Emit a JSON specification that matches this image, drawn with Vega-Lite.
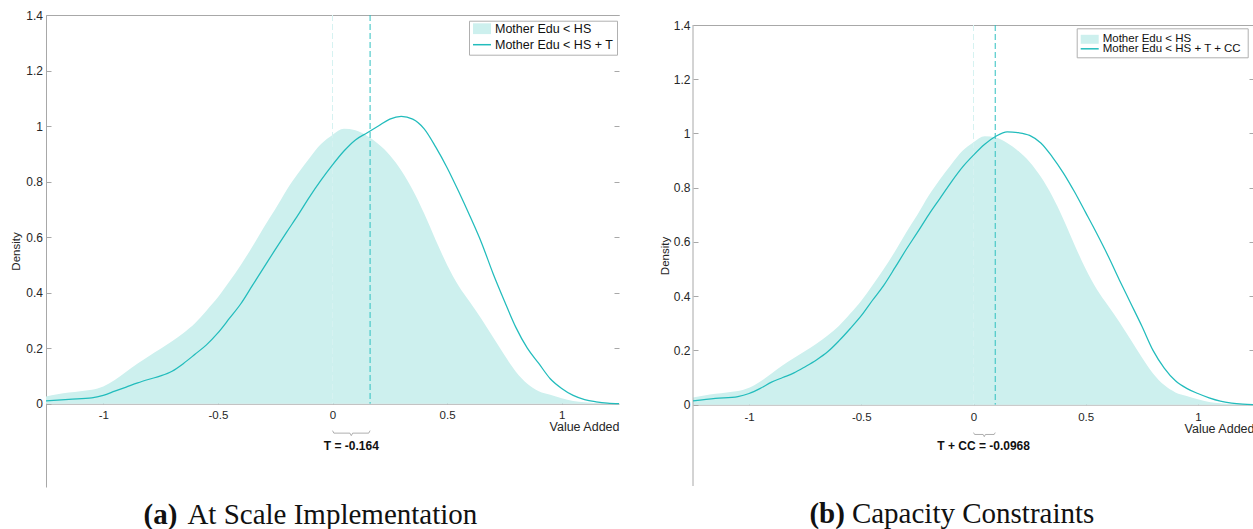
{
  "$schema": "https://vega.github.io/schema/vega-lite/v6.json",
  "padding": {"left": 10, "top": 9, "right": 0, "bottom": 0},
  "autosize": {"type": "pad"},
  "spacing": 74,
  "bounds": "flush",
  "config": {
    "view": {"stroke": null},
    "font": "Liberation Sans",
    "axis": {"labelFont": "Liberation Sans", "labelFontSize": 11.5, "labelColor": "#262626", "titleFont": "Liberation Sans", "titleColor": "#262626", "titleFontWeight": "normal", "domainColor": "#a8a8a8", "tickColor": "#a8a8a8", "grid": false, "labelFlush": false},
    "legend": {"labelFont": "Liberation Sans", "labelColor": "#111111", "titleFont": "Liberation Sans", "titleFontWeight": "normal", "padding": 3, "labelOffset": 3, "symbolSize": 324, "cornerRadius": 0}
  },
  "datasets": {
    "base": [
      {"va": -1.25, "density": 0.026}, {"va": -1.2, "density": 0.034}, {"va": -1.15, "density": 0.04}, {"va": -1.1, "density": 0.045}, {"va": -1.05, "density": 0.05}, {"va": -1.0, "density": 0.062}, {"va": -0.95, "density": 0.085}, {"va": -0.9, "density": 0.115}, {"va": -0.85, "density": 0.145}, {"va": -0.8, "density": 0.172}, {"va": -0.75, "density": 0.198}, {"va": -0.7, "density": 0.225}, {"va": -0.65, "density": 0.255}, {"va": -0.6, "density": 0.29}, {"va": -0.55, "density": 0.335}, {"va": -0.5, "density": 0.383}, {"va": -0.45, "density": 0.44}, {"va": -0.4, "density": 0.5}, {"va": -0.35, "density": 0.565}, {"va": -0.3, "density": 0.635}, {"va": -0.25, "density": 0.7}, {"va": -0.2, "density": 0.77}, {"va": -0.15, "density": 0.83}, {"va": -0.1, "density": 0.885}, {"va": -0.05, "density": 0.935}, {"va": 0.0, "density": 0.968}, {"va": 0.05, "density": 0.99}, {"va": 0.1, "density": 0.985}, {"va": 0.15, "density": 0.965}, {"va": 0.2, "density": 0.935}, {"va": 0.25, "density": 0.895}, {"va": 0.3, "density": 0.84}, {"va": 0.35, "density": 0.77}, {"va": 0.4, "density": 0.685}, {"va": 0.45, "density": 0.59}, {"va": 0.5, "density": 0.5}, {"va": 0.55, "density": 0.425}, {"va": 0.6, "density": 0.365}, {"va": 0.65, "density": 0.305}, {"va": 0.7, "density": 0.24}, {"va": 0.75, "density": 0.175}, {"va": 0.8, "density": 0.115}, {"va": 0.85, "density": 0.072}, {"va": 0.9, "density": 0.045}, {"va": 0.95, "density": 0.032}, {"va": 1.0, "density": 0.02}, {"va": 1.05, "density": 0.01}, {"va": 1.1, "density": 0.005}, {"va": 1.15, "density": 0.002}, {"va": 1.2, "density": 0.001}, {"va": 1.25, "density": 0.0}
    ],
    "treat": [
      {"va": -1.25, "density": 0.01}, {"va": -1.15, "density": 0.016}, {"va": -1.05, "density": 0.021}, {"va": -1.0, "density": 0.03}, {"va": -0.95, "density": 0.045}, {"va": -0.9, "density": 0.06}, {"va": -0.85, "density": 0.075}, {"va": -0.8, "density": 0.088}, {"va": -0.75, "density": 0.1}, {"va": -0.7, "density": 0.117}, {"va": -0.65, "density": 0.145}, {"va": -0.6, "density": 0.178}, {"va": -0.55, "density": 0.212}, {"va": -0.5, "density": 0.255}, {"va": -0.45, "density": 0.307}, {"va": -0.4, "density": 0.36}, {"va": -0.35, "density": 0.425}, {"va": -0.3, "density": 0.49}, {"va": -0.25, "density": 0.555}, {"va": -0.2, "density": 0.618}, {"va": -0.15, "density": 0.68}, {"va": -0.1, "density": 0.745}, {"va": -0.05, "density": 0.805}, {"va": 0.0, "density": 0.86}, {"va": 0.05, "density": 0.91}, {"va": 0.1, "density": 0.95}, {"va": 0.15, "density": 0.975}, {"va": 0.2, "density": 1.0}, {"va": 0.25, "density": 1.025}, {"va": 0.3, "density": 1.035}, {"va": 0.35, "density": 1.025}, {"va": 0.4, "density": 0.99}, {"va": 0.45, "density": 0.925}, {"va": 0.5, "density": 0.85}, {"va": 0.55, "density": 0.765}, {"va": 0.6, "density": 0.675}, {"va": 0.65, "density": 0.58}, {"va": 0.7, "density": 0.47}, {"va": 0.75, "density": 0.37}, {"va": 0.8, "density": 0.275}, {"va": 0.85, "density": 0.2}, {"va": 0.9, "density": 0.145}, {"va": 0.95, "density": 0.09}, {"va": 1.0, "density": 0.055}, {"va": 1.05, "density": 0.03}, {"va": 1.1, "density": 0.015}, {"va": 1.15, "density": 0.007}, {"va": 1.2, "density": 0.002}, {"va": 1.25, "density": 0.0}
    ],
    "cc": [
      {"va": -1.25, "density": 0.014}, {"va": -1.15, "density": 0.023}, {"va": -1.05, "density": 0.03}, {"va": -1.0, "density": 0.041}, {"va": -0.95, "density": 0.06}, {"va": -0.9, "density": 0.083}, {"va": -0.85, "density": 0.1}, {"va": -0.8, "density": 0.117}, {"va": -0.75, "density": 0.14}, {"va": -0.7, "density": 0.165}, {"va": -0.65, "density": 0.195}, {"va": -0.6, "density": 0.235}, {"va": -0.55, "density": 0.28}, {"va": -0.5, "density": 0.328}, {"va": -0.45, "density": 0.385}, {"va": -0.4, "density": 0.44}, {"va": -0.35, "density": 0.505}, {"va": -0.3, "density": 0.572}, {"va": -0.25, "density": 0.635}, {"va": -0.2, "density": 0.7}, {"va": -0.15, "density": 0.76}, {"va": -0.1, "density": 0.82}, {"va": -0.05, "density": 0.875}, {"va": 0.0, "density": 0.92}, {"va": 0.05, "density": 0.96}, {"va": 0.1, "density": 0.99}, {"va": 0.15, "density": 1.006}, {"va": 0.2, "density": 1.003}, {"va": 0.25, "density": 0.993}, {"va": 0.3, "density": 0.965}, {"va": 0.35, "density": 0.915}, {"va": 0.4, "density": 0.855}, {"va": 0.45, "density": 0.785}, {"va": 0.5, "density": 0.708}, {"va": 0.55, "density": 0.63}, {"va": 0.6, "density": 0.548}, {"va": 0.65, "density": 0.46}, {"va": 0.7, "density": 0.375}, {"va": 0.75, "density": 0.29}, {"va": 0.8, "density": 0.2}, {"va": 0.85, "density": 0.135}, {"va": 0.9, "density": 0.088}, {"va": 0.95, "density": 0.06}, {"va": 1.0, "density": 0.041}, {"va": 1.05, "density": 0.025}, {"va": 1.1, "density": 0.013}, {"va": 1.15, "density": 0.006}, {"va": 1.2, "density": 0.002}, {"va": 1.25, "density": 0.0}
    ]
  },
  "resolve": {"scale": {"fill": "independent", "stroke": "independent"}, "legend": {"fill": "independent", "stroke": "independent"}},
  "hconcat": [
    {
      "width": 573,
      "height": 472,
      "resolve": {"axis": {"x": "independent", "y": "independent"}},
      "layer": [
        {
          "data": {"name": "base"},
          "mark": {"type": "area", "interpolate": "monotone", "opacity": 1},
          "encoding": {
            "x": {"field": "va", "type": "quantitative", "scale": {"domain": [-1.25, 1.25], "nice": false, "zero": false},
              "axis": {"orient": "bottom", "offset": -83.3, "values": [-1, -0.5, 0, 0.5, 1], "labelExpr": "'' + datum.value", "tickSize": -5, "labelPadding": 10.5, "title": "Value Added", "titleAnchor": "end", "titlePadding": 0, "titleFontSize": 12.5}},
            "y": {"field": "density", "type": "quantitative", "scale": {"domain": [-0.3, 1.4], "nice": false, "zero": false},
              "axis": {"orient": "left", "values": [0, 0.2, 0.4, 0.6, 0.8, 1, 1.2, 1.4], "labelExpr": "'' + datum.value", "labelFontSize": 12, "tickSize": -5, "labelPadding": 8.5, "title": "Density", "titlePadding": 4.5, "titleFontSize": 11.5}},
            "y2": {"datum": 0},
            "fill": {"datum": "Mother Edu < HS", "type": "nominal", "scale": {"range": ["#cdf0ee"]},
              "legend": {"title": null, "orient": "none", "legendX": 423, "legendY": 0.7, "labelFontSize": 12.5, "symbolType": "M-1,-0.6H1V0.6H-1Z", "symbolStrokeColor": "transparent", "strokeColor": "transparent"}}
          }
        },
        {
          "data": {"values": [{"va": 0}]},
          "mark": {"type": "rule", "color": "#d6f2f1", "strokeDash": [6, 3], "strokeWidth": 1},
          "encoding": {
            "x": {"field": "va", "type": "quantitative", "axis": {"orient": "top", "ticks": false, "labels": false, "title": null}},
            "y": {"datum": 1.4, "type": "quantitative", "axis": {"orient": "right", "domain": false, "labels": false, "values": [0.2, 0.4, 0.6, 0.8, 1, 1.2, 1.4], "tickSize": -5, "title": null}},
            "y2": {"datum": 0}
          }
        },
        {
          "data": {"name": "treat"},
          "mark": {"type": "line", "interpolate": "monotone", "strokeWidth": 1.25},
          "encoding": {
            "x": {"field": "va", "type": "quantitative", "axis": null},
            "y": {"field": "density", "type": "quantitative", "axis": null},
            "stroke": {"datum": "Mother Edu < HS + T", "type": "nominal", "scale": {"range": ["#22bcbc"]},
              "legend": {"title": " ", "titleFontSize": 9, "titlePadding": 2, "orient": "none", "legendX": 423, "legendY": 5.7, "labelFontSize": 12.5, "symbolType": "stroke", "symbolStrokeWidth": 1.5, "strokeColor": "#b0b0b0"}}
          }
        },
        {
          "data": {"values": [{"va": 0.164}]},
          "mark": {"type": "rule", "color": "#2fc0c0", "strokeDash": [6, 3], "strokeWidth": 1},
          "encoding": {
            "x": {"field": "va", "type": "quantitative", "axis": null},
            "y": {"datum": 1.4, "type": "quantitative", "axis": null},
            "y2": {"datum": 0}
          }
        },
        {
          "data": {"values": [{"va": 0, "density": -0.097}, {"va": 0.006, "density": -0.106}, {"va": 0.076, "density": -0.106}, {"va": 0.082, "density": -0.115}, {"va": 0.088, "density": -0.106}, {"va": 0.158, "density": -0.106}, {"va": 0.164, "density": -0.097}]},
          "mark": {"type": "line", "color": "#9a9a9a", "strokeWidth": 0.8},
          "encoding": {
            "x": {"field": "va", "type": "quantitative", "axis": null},
            "y": {"field": "density", "type": "quantitative", "axis": null}
          }
        },
        {
          "data": {"values": [{"label": "T = -0.164", "va": 0.082, "density": -0.151}]},
          "mark": {"type": "text", "fontWeight": "bold", "fontSize": 12, "color": "#111111", "font": "Liberation Sans"},
          "encoding": {
            "x": {"field": "va", "type": "quantitative", "axis": null},
            "y": {"field": "density", "type": "quantitative", "axis": null},
            "text": {"field": "label"}
          }
        },
        {
          "data": {"values": [{"label": "(a)", "va": -0.677, "density": -0.4}]},
          "mark": {"type": "text", "fontWeight": "bold", "fontSize": 29, "color": "#111111", "font": "Liberation Serif", "align": "right", "baseline": "middle"},
          "encoding": {
            "x": {"field": "va", "type": "quantitative", "axis": null},
            "y": {"field": "density", "type": "quantitative", "axis": null},
            "text": {"field": "label"}
          }
        },
        {
          "data": {"values": [{"label": "At Scale Implementation", "va": -0.633, "density": -0.4}]},
          "mark": {"type": "text", "fontSize": 29, "color": "#111111", "font": "Liberation Serif", "align": "left", "baseline": "middle"},
          "encoding": {
            "x": {"field": "va", "type": "quantitative", "axis": null},
            "y": {"field": "density", "type": "quantitative", "axis": null},
            "text": {"field": "label"}
          }
        }
      ]
    },
    {
      "width": 561,
      "height": 471,
      "resolve": {"axis": {"x": "independent", "y": "independent"}},
      "layer": [
        {
          "data": {"name": "base"},
          "mark": {"type": "area", "interpolate": "monotone", "opacity": 1},
          "encoding": {
            "x": {"field": "va", "type": "quantitative", "scale": {"domain": [-1.25, 1.25], "nice": false, "zero": false},
              "axis": {"orient": "bottom", "offset": -81.4, "values": [-1, -0.5, 0, 0.5, 1], "labelExpr": "'' + datum.value", "tickSize": -5, "labelPadding": 11.5, "title": "Value Added", "titleAnchor": "end", "titlePadding": 0, "titleFontSize": 12.5}},
            "y": {"field": "density", "type": "quantitative", "scale": {"domain": [-0.3, 1.4369], "nice": false, "zero": false},
              "axis": {"orient": "left", "domain": false, "values": [0, 0.2, 0.4, 0.6, 0.8, 1, 1.2, 1.4], "labelExpr": "'' + datum.value", "labelFontSize": 12, "tickSize": -5, "labelPadding": 8, "title": "Density", "titlePadding": 2.5, "titleFontSize": 11.5, "titleY": 240.5}},
            "y2": {"datum": 0},
            "fill": {"datum": "Mother Edu < HS", "type": "nominal", "scale": {"range": ["#cdf0ee"]},
              "legend": {"title": null, "orient": "none", "legendX": 383.7, "legendY": 11.3, "labelFontSize": 11.5, "symbolType": "M-1,-0.5H1V0.5H-1Z", "symbolStrokeColor": "transparent", "strokeColor": "transparent"}}
          }
        },
        {
          "data": {"values": [{"va": 0}]},
          "mark": {"type": "rule", "color": "#d6f2f1", "strokeDash": [6, 3], "strokeWidth": 1},
          "encoding": {
            "x": {"field": "va", "type": "quantitative", "axis": {"orient": "top", "offset": -10, "ticks": false, "labels": false, "title": null}},
            "y": {"datum": 1.4, "type": "quantitative", "axis": {"orient": "right", "domain": false, "labels": false, "values": [0.2, 0.4, 0.6, 0.8, 1, 1.2, 1.4], "tickSize": -5, "title": null}},
            "y2": {"datum": 0}
          }
        },
        {
          "data": {"values": [{"va": -1.25}]},
          "mark": {"type": "rule", "color": "#a8a8a8", "strokeWidth": 1},
          "encoding": {
            "x": {"field": "va", "type": "quantitative", "axis": null},
            "y": {"datum": -0.3, "type": "quantitative", "axis": null},
            "y2": {"datum": 1.4}
          }
        },
        {
          "data": {"name": "cc"},
          "mark": {"type": "line", "interpolate": "monotone", "strokeWidth": 1.25},
          "encoding": {
            "x": {"field": "va", "type": "quantitative", "axis": null},
            "y": {"field": "density", "type": "quantitative", "axis": null},
            "stroke": {"datum": "Mother Edu < HS + T  + CC", "type": "nominal", "scale": {"range": ["#22bcbc"]},
              "legend": {"title": " ", "titleFontSize": 9.5, "titlePadding": -2, "orient": "none", "legendX": 383.7, "legendY": 13.3, "labelFontSize": 11.5, "symbolType": "stroke", "symbolStrokeWidth": 1.5, "strokeColor": "#b0b0b0"}}
          }
        },
        {
          "data": {"values": [{"va": 0.0968}]},
          "mark": {"type": "rule", "color": "#2fc0c0", "strokeDash": [6, 3], "strokeWidth": 1},
          "encoding": {
            "x": {"field": "va", "type": "quantitative", "axis": null},
            "y": {"datum": 1.4, "type": "quantitative", "axis": null},
            "y2": {"datum": 0}
          }
        },
        {
          "data": {"values": [{"va": 0, "density": -0.103}, {"va": 0.005, "density": -0.11}, {"va": 0.043, "density": -0.11}, {"va": 0.048, "density": -0.118}, {"va": 0.053, "density": -0.11}, {"va": 0.092, "density": -0.11}, {"va": 0.0968, "density": -0.103}]},
          "mark": {"type": "line", "color": "#9a9a9a", "strokeWidth": 0.8},
          "encoding": {
            "x": {"field": "va", "type": "quantitative", "axis": null},
            "y": {"field": "density", "type": "quantitative", "axis": null}
          }
        },
        {
          "data": {"values": [{"label": "T + CC = -0.0968", "va": 0.045, "density": -0.154}]},
          "mark": {"type": "text", "fontWeight": "bold", "fontSize": 12, "color": "#111111", "font": "Liberation Sans"},
          "encoding": {
            "x": {"field": "va", "type": "quantitative", "axis": null},
            "y": {"field": "density", "type": "quantitative", "axis": null},
            "text": {"field": "label"}
          }
        },
        {
          "data": {"values": [{"label": "(b)", "va": -0.573, "density": -0.404}]},
          "mark": {"type": "text", "fontWeight": "bold", "fontSize": 29, "color": "#111111", "font": "Liberation Serif", "align": "right", "baseline": "middle"},
          "encoding": {
            "x": {"field": "va", "type": "quantitative", "axis": null},
            "y": {"field": "density", "type": "quantitative", "axis": null},
            "text": {"field": "label"}
          }
        },
        {
          "data": {"values": [{"label": "Capacity Constraints", "va": -0.542, "density": -0.404}]},
          "mark": {"type": "text", "fontSize": 29, "color": "#111111", "font": "Liberation Serif", "align": "left", "baseline": "middle"},
          "encoding": {
            "x": {"field": "va", "type": "quantitative", "axis": null},
            "y": {"field": "density", "type": "quantitative", "axis": null},
            "text": {"field": "label"}
          }
        }
      ]
    }
  ]
}
